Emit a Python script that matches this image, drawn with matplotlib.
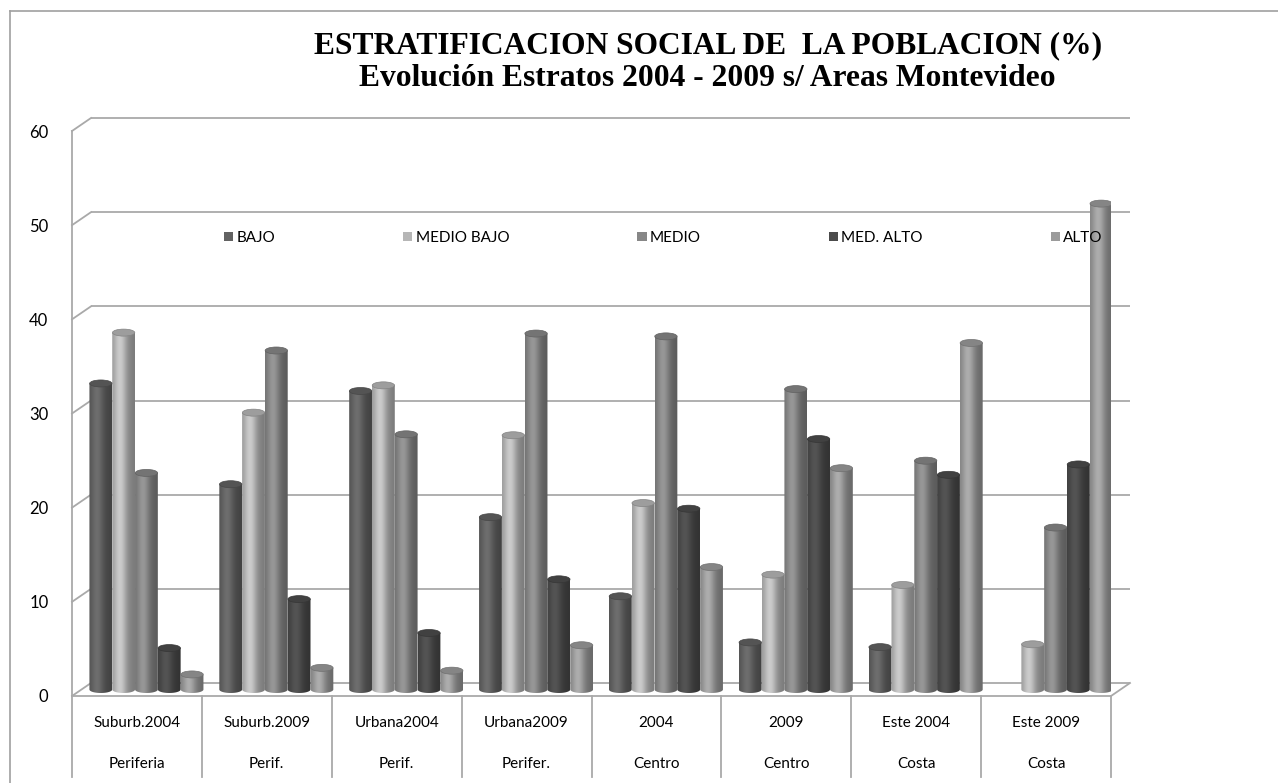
import numpy as np
import matplotlib
matplotlib.use("Agg")
import matplotlib.pyplot as plt
from matplotlib.patches import PathPatch, Ellipse, Patch
from matplotlib.path import Path
from matplotlib.lines import Line2D
import matplotlib.colors as mcolors

# ---------------- data ----------------
categories_top = ["Suburb.2004", "Suburb.2009", "Urbana2004", "Urbana2009",
                  "2004", "2009", "Este 2004", "Este 2009"]
categories_bottom = ["Periferia", "Perif.", "Perif.", "Perifer.",
                     "Centro", "Centro", "Costa", "Costa"]
series_names = ["BAJO", "MEDIO BAJO", "MEDIO", "MED. ALTO", "ALTO"]
bajo = [32.5, 21.8, 31.7, 18.3, 9.9, 5.0, 4.5, 0.0]
medio_bajo = [37.9, 29.4, 32.3, 27.0, 19.8, 12.2, 11.1, 4.8]
medio = [23.0, 36.0, 27.1, 37.8, 37.5, 31.9, 24.3, 17.2]
med_alto = [4.4, 9.6, 6.0, 11.7, 19.2, 26.6, 22.8, 23.9]
alto = [1.6, 2.3, 2.0, 4.7, 13.0, 23.5, 36.8, 51.6]
y_ticks = [0, 10, 20, 30, 40, 50, 60]
series_values = [bajo, medio_bajo, medio, med_alto, alto]
series_colors = ["#626262", "#b6b6b6", "#878787", "#4b4b4b", "#9b9b9b"]

title_line1 = "ESTRATIFICACION SOCIAL DE  LA POBLACION (%)"
title_line2 = "Evolución Estratos 2004 - 2009 s/ Areas Montevideo"

# ---------------- figure ----------------
W, H = 1278, 783
fig = plt.figure(figsize=(W / 100, H / 100), dpi=100)
fig.patch.set_facecolor("white")

# front plane of the 3-D box in pixels
x_left, x_right = 72, 1111
y_zero, y_top = 696, 131
ax = fig.add_axes([x_left / W, (H - y_zero) / H,
                   (x_right - x_left) / W, (y_zero - y_top) / H])
ax.set_xlim(0, 8)
ax.set_ylim(0, 60)
for s in ax.spines.values():
    s.set_visible(False)

px_x = 8 / (x_right - x_left)      # data units per pixel (x)
px_y = 60 / (y_zero - y_top)       # data units per pixel (y)
dep_x, dep_y = 19 * px_x, 13 * px_y  # depth of the box

grid_c = "#a9a9a9"
glw = 1.3
# back wall gridlines + left wall connectors
for v in y_ticks:
    ax.plot([dep_x, 8 + dep_x], [v + dep_y, v + dep_y], color=grid_c,
            lw=glw, clip_on=False, zorder=1, solid_capstyle="butt")
    ax.plot([0, dep_x], [v, v + dep_y], color=grid_c, lw=glw,
            clip_on=False, zorder=1)
# front left axis line, floor front edge and right floor edge
ax.plot([0, 0], [0, 60], color=grid_c, lw=glw, clip_on=False, zorder=1)
ax.plot([0, 8], [0, 0], color=grid_c, lw=glw, clip_on=False, zorder=1)
ax.plot([8, 8 + dep_x], [0, dep_y], color=grid_c, lw=glw, clip_on=False, zorder=1)

sans = ["Lato", "DejaVu Sans"]

# y tick labels
ax.set_yticks(y_ticks)
ax.set_yticklabels([str(t) for t in y_ticks], fontsize=12, family=sans)
ax.tick_params(axis="y", length=0, pad=17)
ax.set_xticks([])

# category table below the floor
xtr = ax.get_xaxis_transform()
table_bottom = -(777 - y_zero) / (y_zero - y_top)
for i in range(9):
    ax.plot([i, i], [0, table_bottom], transform=xtr, color=grid_c, lw=glw,
            clip_on=False, zorder=1)
row1 = -(723 - y_zero) / (y_zero - y_top)
row2 = -(764 - y_zero) / (y_zero - y_top)
for i in range(8):
    ax.text(i + 0.5, row1, categories_top[i], transform=xtr, ha="center",
            va="center", fontsize=11, family=sans)
    ax.text(i + 0.5, row2, categories_bottom[i], transform=xtr, ha="center",
            va="center", fontsize=11, family=sans)

# ---------------- cylinders ----------------
n_s = len(series_names)
bar_w = 22.8 * px_x
group_w = bar_w * n_s
cap_h = 7 * px_y
off_x, off_y = dep_x / 2, dep_y / 2

t = np.linspace(0, 1, 96)
shade = 0.80 + 0.36 * np.exp(-((t - 0.36) / 0.28) ** 2) - 0.12 * t


def cylinder(x0, v, color, z):
    rgb = np.array(mcolors.to_rgb(color))
    grad = np.clip(rgb[None, :] * shade[:, None], 0, 1)[None, :, :]
    base = off_y
    top = base + v
    xc = x0 + bar_w / 2
    th = np.linspace(np.pi, 2 * np.pi, 40)
    arc = np.column_stack([xc + bar_w / 2 * np.cos(th),
                           base + cap_h / 2 * np.sin(th)])
    verts = np.vstack([[x0, top], arc, [x0 + bar_w, top], [x0, top]])
    codes = [Path.MOVETO] + [Path.LINETO] * (len(verts) - 2) + [Path.CLOSEPOLY]
    patch = PathPatch(Path(verts, codes), facecolor="none", edgecolor="none",
                      zorder=z)
    ax.add_patch(patch)
    im = ax.imshow(grad, extent=(x0, x0 + bar_w, base - cap_h, top),
                   aspect="auto", interpolation="bilinear", zorder=z,
                   clip_on=True)
    im.set_clip_path(patch)
    cap_rgb = np.clip(rgb * 0.86, 0, 1)
    ax.add_patch(Ellipse((xc, top), bar_w * 0.98, cap_h,
                         facecolor=cap_rgb,
                         edgecolor=np.clip(rgb * 0.72, 0, 1), lw=0.5,
                         zorder=z + 0.5))


for gi in range(len(categories_top)):
    gx0 = gi + 0.5 - group_w / 2 + off_x
    for si in range(n_s):
        v = series_values[si][gi]
        if v <= 0:
            continue
        cylinder(gx0 + si * bar_w, v, series_colors[si], 3 + si * 0.01 + gi * 0.1)

ax.set_xlim(0, 8)
ax.set_ylim(0, 60)

# ---------------- legend ----------------
handles = [Patch(facecolor=c, edgecolor="none") for c in series_colors]
leg = fig.legend(handles, series_names, ncol=5, loc="center left",
                 bbox_to_anchor=(224 / W, 1 - 238 / H), frameon=False,
                 prop={"family": sans, "size": 11},
                 handlelength=0.6, handleheight=0.6, handletextpad=0.2,
                 columnspacing=8.4, borderpad=0, borderaxespad=0)
leg.set_zorder(2)

# ---------------- titles ----------------
tfont = ["Liberation Serif", "DejaVu Serif"]
fig.text(708 / W, 1 - 46 / H, title_line1, ha="center", va="center",
         fontsize=22.7, fontweight="bold", family=tfont)
fig.text(707 / W, 1 - 79 / H, title_line2, ha="center", va="center",
         fontsize=22.7, fontweight="bold", family=tfont)

# outer chart border
bc = "#a0a0a0"
fig.add_artist(Line2D([10 / W, 1], [1 - 11 / H, 1 - 11 / H], color=bc, lw=1.2,
                      transform=fig.transFigure))
fig.add_artist(Line2D([10 / W, 10 / W], [0, 1 - 11 / H], color=bc, lw=1.2,
                      transform=fig.transFigure))

fig.savefig("out.png", dpi=100, facecolor="white")
